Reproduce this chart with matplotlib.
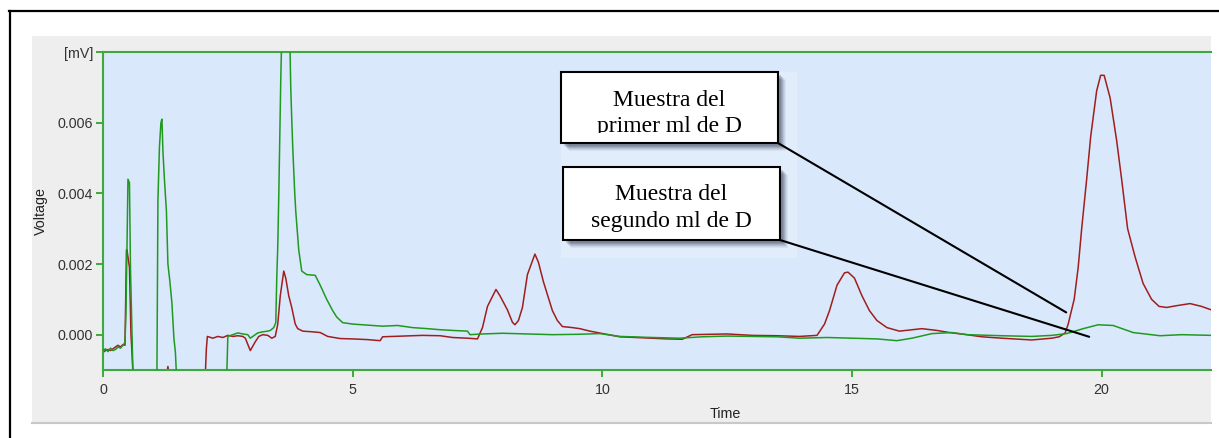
import matplotlib
matplotlib.use("Agg")
import matplotlib.pyplot as plt
from matplotlib.patches import Rectangle, ConnectionPatch
from matplotlib.lines import Line2D

# ---- chromatogram traces (time in min, voltage in mV) ----
green_t = [0.00, 0.05, 0.10, 0.15, 0.20, 0.25, 0.30, 0.35, 0.40, 0.44, 0.46, 0.48, 0.50, 0.53,
           0.55, 0.60, 1.08, 1.10, 1.13, 1.16, 1.18, 1.20, 1.23, 1.27, 1.30, 1.34, 1.38, 1.42,
           1.45, 1.47, 2.48, 2.50, 2.60, 2.70, 2.80, 2.90, 2.95, 3.00, 3.10, 3.20, 3.30, 3.35,
           3.42, 3.46, 3.48, 3.50, 3.52, 3.56, 3.58, 3.74, 3.76, 3.78, 3.80, 3.84, 3.86, 3.92,
           3.98, 4.08, 4.25, 4.35, 4.48, 4.60, 4.68, 4.80, 5.00, 5.20, 5.40, 5.60, 5.90, 6.20,
           6.50, 6.75, 7.00, 7.30, 7.35, 7.60, 8.00, 8.50, 9.00, 9.50, 9.95, 10.35, 11.00, 11.55,
           12.00, 12.50, 13.00, 13.50, 13.95, 14.50, 15.00, 15.50, 15.90, 16.20, 16.60, 17.00,
           17.30, 18.00, 18.60, 19.00, 19.30, 19.63, 19.93, 20.23, 20.63, 21.17, 21.60, 22.20]
green_v = [-0.00045, -0.00040, -0.00048, -0.00038, -0.00045, -0.00042, -0.00035, -0.00038,
           -0.00030, -0.00023, 0.00063, 0.00245, 0.00440, 0.00430, 0.00190, -0.00110, -0.00110,
           0.00380, 0.00530, 0.00600, 0.00610, 0.00520, 0.00440, 0.00350, 0.00200, 0.00150,
           0.00090, -0.00010, -0.00050, -0.00110, -0.00110, -0.00005, 0.00000, 0.00005, 0.00002,
           0.00000, -0.00010, -0.00005, 0.00005, 0.00008, 0.00010, 0.00012, 0.00020, 0.00034,
           0.00160, 0.00250, 0.00390, 0.00720, 0.00850, 0.00850, 0.00700, 0.00610, 0.00530,
           0.00400, 0.00350, 0.00240, 0.00180, 0.00170, 0.00168, 0.00140, 0.00100, 0.00068,
           0.00050, 0.00034, 0.00030, 0.00028, 0.00026, 0.00024, 0.00026, 0.00020, 0.00017,
           0.00014, 0.00012, 0.00010, 0.00000, 0.00002, 0.00004, 0.00002, 0.00000, 0.00001,
           0.00003, -0.00005, -0.00008, -0.00010, -0.00006, -0.00004, -0.00005, -0.00006,
           -0.00010, -0.00008, -0.00010, -0.00012, -0.00017, -0.00010, 0.00003, 0.00006,
           0.00000, -0.00003, -0.00005, -0.00002, 0.00003, 0.00017, 0.00028, 0.00026, 0.00006,
           -0.00003, 0.00000, -0.00002]

red_t = [0.00, 0.05, 0.10, 0.15, 0.20, 0.25, 0.30, 0.35, 0.40, 0.44, 0.47, 0.48, 0.53, 0.56,
         0.58, 0.60, 1.28, 1.30, 1.32, 2.05, 2.07, 2.09, 2.20, 2.30, 2.40, 2.50, 2.60, 2.70,
         2.80, 2.85, 2.95, 3.05, 3.12, 3.20, 3.30, 3.38, 3.45, 3.50, 3.55, 3.62, 3.66, 3.72,
         3.78, 3.85, 3.90, 4.00, 4.20, 4.35, 4.50, 4.75, 5.00, 5.30, 5.55, 5.60, 6.00, 6.40,
         6.75, 7.00, 7.30, 7.50, 7.60, 7.70, 7.87, 7.95, 8.10, 8.20, 8.25, 8.32, 8.40, 8.50,
         8.65, 8.72, 8.82, 9.00, 9.10, 9.20, 9.40, 9.55, 9.75, 9.90, 10.35, 11.00, 11.30, 11.60,
         11.80, 12.50, 13.00, 13.50, 13.95, 14.30, 14.45, 14.55, 14.70, 14.85, 14.92, 15.05,
         15.20, 15.35, 15.50, 15.70, 15.95, 16.40, 16.70, 16.95, 17.30, 17.60, 18.00, 18.60,
         19.00, 19.15, 19.27, 19.33, 19.45, 19.53, 19.60, 19.70, 19.78, 19.90, 19.98, 20.05,
         20.17, 20.30, 20.40, 20.52, 20.67, 20.83, 21.00, 21.15, 21.30, 21.50, 21.77, 22.00,
         22.20]
red_v = [-0.00050, -0.00045, -0.00042, -0.00045, -0.00040, -0.00035, -0.00030, -0.00035,
         -0.00028, -0.00030, 0.00240, 0.00240, 0.00190, 0.00000, -0.00050, -0.00110, -0.00110,
         -0.00090, -0.00110, -0.00110, -0.00040, -0.00005, -0.00010, -0.00005, -0.00008,
         -0.00002, -0.00005, -0.00003, -0.00005, -0.00010, -0.00045, -0.00020, -0.00005,
         0.00000, -0.00002, -0.00010, -0.00005, 0.00030, 0.00110, 0.00180, 0.00160, 0.00110,
         0.00077, 0.00030, 0.00017, 0.00010, 0.00008, 0.00006, -0.00005, -0.00011, -0.00012,
         -0.00014, -0.00017, -0.00006, -0.00004, -0.00002, -0.00003, -0.00008, -0.00010,
         -0.00012, 0.00020, 0.00080, 0.00128, 0.00110, 0.00070, 0.00035, 0.00028, 0.00040,
         0.00077, 0.00170, 0.00228, 0.00205, 0.00150, 0.00068, 0.00040, 0.00023, 0.00020,
         0.00017, 0.00010, 0.00006, -0.00006, -0.00010, -0.00012, -0.00013, 0.00000, 0.00002,
         -0.00002, -0.00003, -0.00005, -0.00002, 0.00030, 0.00068, 0.00140, 0.00175, 0.00177,
         0.00160, 0.00110, 0.00068, 0.00040, 0.00020, 0.00010, 0.00017, 0.00012, 0.00006,
         0.00000, -0.00006, -0.00010, -0.00015, -0.00010, -0.00006, 0.00005, 0.00030, 0.00100,
         0.00190, 0.00300, 0.00440, 0.00560, 0.00690, 0.00734, 0.00734, 0.00670, 0.00550,
         0.00440, 0.00300, 0.00220, 0.00145, 0.00100, 0.00080, 0.00077, 0.00082, 0.00088,
         0.00080, 0.00070]

x_ticks = [0, 5, 10, 15, 20]
y_ticks = [0.000, 0.002, 0.004, 0.006, 0.008]
y_tick_labels = ["0.000", "0.002", "0.004", "0.006", "[mV]"]

# callout texts and the (time, voltage) points their leader lines reach
callout_lines = [("Muestra del", "primer ml de D"), ("Muestra del", "segundo ml de D")]
callout_targets = [(19.29, 0.00063), (19.75, -0.00006)]

W, H = 1219, 438
fig = plt.figure(figsize=(W / 100, H / 100), dpi=100)
fig.patch.set_facecolor("white")

def fx(px):
    return px / W

def fy(py):
    return 1 - py / H

# full-figure layer in pixel units for frame and grey panel
bg = fig.add_axes([0, 0, 1, 1], zorder=0)
bg.set_xlim(0, W)
bg.set_ylim(H, 0)
bg.axis("off")
bg.add_patch(Rectangle((32, 36), 1179, 387, facecolor="#EEEEEE", edgecolor="none"))
bg.add_line(Line2D([32, 1211], [423, 423], color="#C8C8C8", lw=1.5))
bg.add_line(Line2D([9.5, 9.5], [11, H], color="black", lw=1.6))
bg.add_line(Line2D([9, W], [11, 11], color="black", lw=1.6))

green = "#1F9A1F"
red = "#A01E1E"
axis_green = "#3DAA3D"
label_col = "#333333"
tick_font = {"family": "Liberation Sans", "size": 10.3}

ax = fig.add_axes([fx(103), fy(370), fx(1211 - 103), (370 - 52) / H], zorder=1)
ax.set_facecolor("#DAE8FC")
ax.plot(green_t, green_v, color=green, lw=1.1, zorder=3)
ax.plot(red_t, red_v, color=red, lw=1.1, zorder=2)
ax.set_xlim(0, 22.19)
ax.set_ylim(-0.001, 0.008)

for side in ["left", "bottom", "top"]:
    ax.spines[side].set_color(axis_green)
    ax.spines[side].set_linewidth(1.5)
ax.spines["right"].set_visible(False)

ax.set_xticks(x_ticks)
ax.set_xticklabels([str(t) for t in x_ticks], fontdict=tick_font, color=label_col)
ax.set_yticks(y_ticks)
ax.set_yticklabels(y_tick_labels, fontdict=tick_font, color=label_col)
ax.tick_params(axis="both", direction="out", color=axis_green, width=1.4, length=5)
ax.tick_params(axis="x", pad=4)
ax.tick_params(axis="y", pad=2)

ax.set_xlabel("Time", fontdict=tick_font, color="#222222")
ax.xaxis.set_label_coords((725 - 103) / (1211 - 103), -(407 - 370) / 318)
ax.set_ylabel("Voltage", fontdict=tick_font, color="#222222")
ax.yaxis.set_label_coords(-(103 - 48) / (1211 - 103), 0.5)

# callout layer above the plot
top = fig.add_axes([0, 0, 1, 1], zorder=5)
top.set_xlim(0, W)
top.set_ylim(H, 0)
top.axis("off")
top.patch.set_alpha(0)

boxes = [(561, 72, 778, 143, 133), (563, 167, 780, 240, 232)]

# faint light halo around the callouts
top.add_patch(Rectangle((561, 72), 797 - 561, 258 - 72, facecolor="white",
                        edgecolor="none", alpha=0.22, zorder=1))

for (x0, y0, x1, y1, clip_y), (l1, l2), target in zip(boxes, callout_lines, callout_targets):
    # soft drop shadow
    for off, a in [(8, 0.06), (7, 0.08), (6, 0.1), (5, 0.12), (4, 0.14), (3, 0.16)]:
        top.add_patch(Rectangle((x0 + off, y0 + off), x1 - x0, y1 - y0,
                                facecolor="#202840", edgecolor="none", alpha=a, zorder=2))
    top.add_patch(Rectangle((x0, y0), x1 - x0, y1 - y0, facecolor="white",
                            edgecolor="none", zorder=3))
    cx = (x0 + x1) / 2
    top.text(cx, y0 + 33.5, l1, ha="center", va="baseline",
             family="Liberation Serif", fontsize=17, color="black", zorder=4)
    top.text(cx, y0 + 60, l2, ha="center", va="baseline",
             family="Liberation Serif", fontsize=17, color="black", zorder=4)
    top.add_patch(Rectangle((x0 + 1, clip_y), x1 - x0 - 2, y1 - clip_y - 1,
                            facecolor="white", edgecolor="none", zorder=5))
    top.add_patch(Rectangle((x0, y0), x1 - x0, y1 - y0, facecolor="none",
                            edgecolor="black", lw=1.5, zorder=6))
    con = ConnectionPatch(xyA=(x1, y1), coordsA=top.transData,
                          xyB=target, coordsB=ax.transData,
                          color="black", lw=1.5, zorder=6)
    top.add_artist(con)

fig.savefig("out.png", dpi=100)
